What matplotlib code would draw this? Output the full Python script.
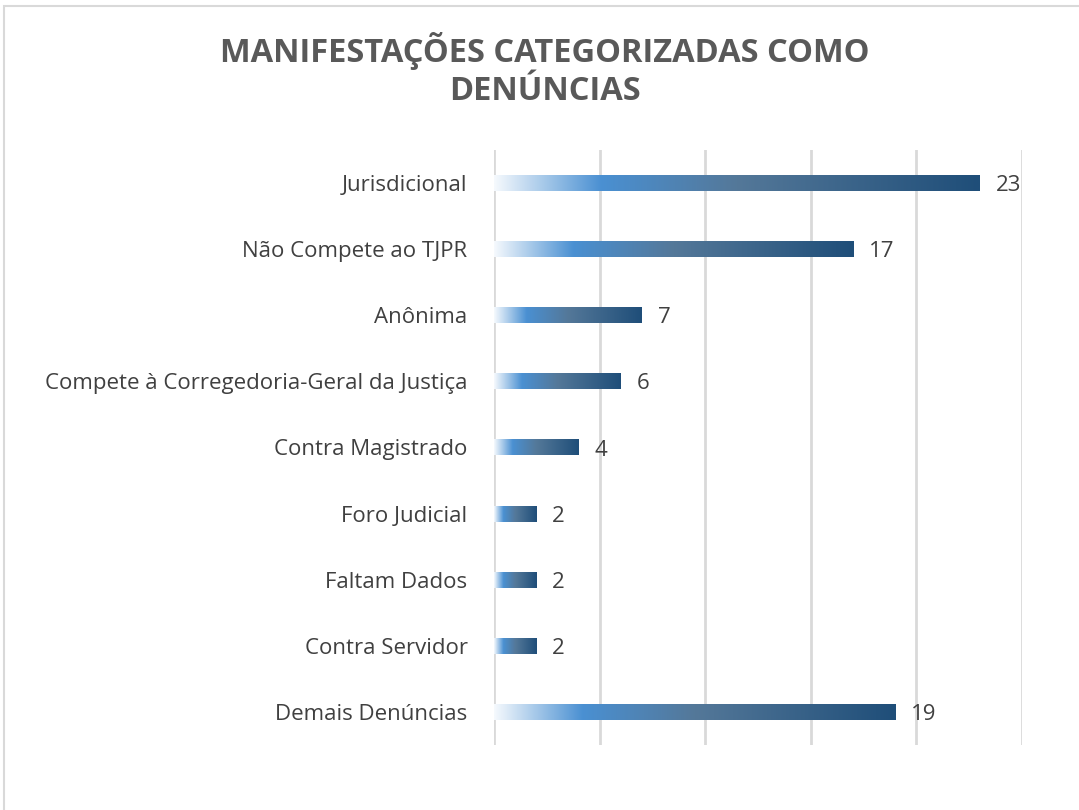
import numpy as np
import matplotlib.pyplot as plt
from matplotlib.colors import LinearSegmentedColormap
from matplotlib.patches import Rectangle

categories = ["Jurisdicional", "Não Compete ao TJPR", "Anônima",
              "Compete à Corregedoria-Geral da Justiça", "Contra Magistrado",
              "Foro Judicial", "Faltam Dados", "Contra Servidor", "Demais Denúncias"]
values = [23, 17, 7, 6, 4, 2, 2, 2, 19]
title = "MANIFESTAÇÕES CATEGORIZADAS COMO\nDENÚNCIAS"

plt.rcParams['font.family'] = ['Open Sans', 'DejaVu Sans']

fig = plt.figure(figsize=(10.79, 8.10), dpi=100)
ax = fig.add_axes([494 / 1079, 1 - 745 / 810, (1022 - 494) / 1079, (745 - 150) / 810])

# moldura
fig.patches.append(Rectangle((4 / 1079, -0.1), 1.1, 1.1 - 6 / 810, transform=fig.transFigure,
                             fill=False, edgecolor='#d9d9d9', linewidth=1.5))

# degradê das barras
cmap = LinearSegmentedColormap.from_list("grad", [
    (0.0, "#f5f9fd"), (0.22, "#4a90d2"), (0.5, "#547899"), (1.0, "#1f4e79")])
grad = np.linspace(0, 1, 256).reshape(1, -1)

h = 0.24
for i, v in enumerate(values):
    ax.imshow(grad, cmap=cmap, aspect='auto', extent=[0, v, i + h / 2, i - h / 2],
              interpolation='bilinear', zorder=3)
    ax.text(v + 0.75, i, str(v), va='center_baseline', ha='left', fontsize=16, color='#404040')

ax.set_xlim(0, 25)
ax.set_ylim(len(values) - 0.5, -0.5)
ax.set_xticks([0, 5, 10, 15, 20, 25])
ax.set_xticklabels([])
ax.set_yticks(range(len(values)))
ax.set_yticklabels(categories, fontsize=16, color='#404040')
ax.tick_params(axis='both', length=0)
ax.tick_params(axis='y', pad=19)
ax.grid(axis='x', color='#d9d9d9', linewidth=2, zorder=0)
for s in ax.spines.values():
    s.set_visible(False)

fig.text(545 / 1079, 1 - 70 / 810, title, ha='center', va='center', fontsize=23.5,
         fontweight='bold', color='#595959', linespacing=1.2)

fig.savefig("out.png", dpi=100)
